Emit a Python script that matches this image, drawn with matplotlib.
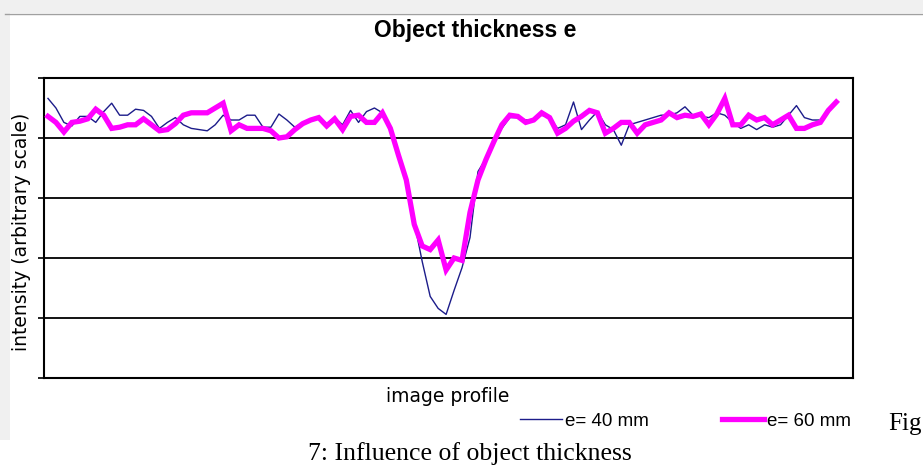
import matplotlib.pyplot as plt
import matplotlib.patches as patches
import numpy as np

# intensity profiles (arbitrary units, gridlines every 50)
e40 = [233, 225, 213, 210, 218, 218, 213, 222, 229, 219,
       219, 224, 223, 218, 208, 213, 217, 211, 208, 207,
       206, 211, 219, 215, 215, 219, 219, 209, 209, 220,
       215, 209, 213, 215, 217, 212, 217, 211, 223, 213,
       222, 225, 221, 210, 188, 167, 130, 97, 68, 58,
       53, 73, 92, 117, 172, 183, 198, 208, 217, 217,
       215, 215, 219, 217, 208, 211, 230, 207, 215, 222,
       211, 207, 194, 211, 213, 215, 217, 219, 219, 221,
       226, 219, 218, 217, 221, 219, 213, 208, 211, 207,
       211, 209, 211, 219, 227, 217, 215, 215, 223, 229]

e60 = [218, 213, 205, 213, 214, 216, 224, 219, 208, 209,
       211, 211, 216, 211, 206, 207, 212, 219, 221, 221,
       221, 225, 229, 206, 211, 208, 208, 208, 206, 200,
       201, 207, 212, 215, 217, 210, 216, 207, 218, 219,
       213, 213, 221, 208, 186, 165, 128, 110, 107, 115,
       90, 100, 98, 138, 165, 182, 197, 211, 219, 218,
       213, 215, 221, 217, 204, 208, 214, 218, 223, 221,
       204, 208, 213, 213, 204, 211, 213, 215, 221, 217,
       219, 218, 220, 211, 220, 233, 211, 211, 219, 215,
       217, 211, 215, 219, 208, 208, 211, 213, 223, 230]

legend_labels = ['e= 40 mm', 'e= 60 mm']
y_ticks = [0, 50, 100, 150, 200, 250]

W, H = 923, 470
fig = plt.figure(figsize=(W / 100, H / 100), dpi=100, facecolor='white')

# grey frame of the embedded chart image
fig.patches.append(patches.Rectangle((0, 1 - 13 / H), 1, 13 / H, transform=fig.transFigure,
                                     facecolor='#f0f0f0', edgecolor='none', zorder=0))
fig.patches.append(patches.Rectangle((0, 1 - 440 / H), 10 / W, 440 / H, transform=fig.transFigure,
                                     facecolor='#f0f0f0', edgecolor='none', zorder=0))
fig.add_artist(plt.Line2D([5 / W, 1], [1 - 14 / H, 1 - 14 / H], transform=fig.transFigure,
                          color='#a0a0a0', linewidth=1))

ax = fig.add_axes([44 / W, (H - 378) / H, (853 - 44) / W, (378 - 78) / H])
x = np.arange(len(e40))
l40, = ax.plot(x, e40, color='#1c1c8a', linewidth=1.0, zorder=3)
l60, = ax.plot(x, e60, color='#ff00ff', linewidth=3.8, zorder=4, solid_joinstyle='miter')

ax.set_xlim(-0.5, 101.1)
ax.set_ylim(0, 250)
ax.set_yticks(y_ticks)
ax.set_yticklabels([])
ax.set_xticks([])
ax.tick_params(axis='y', direction='out', length=4, width=1.2, color='black')
for y in y_ticks[1:-1]:
    ax.axhline(y, color='black', linewidth=1.3, zorder=1)
for s in ax.spines.values():
    s.set_color('black')
    s.set_linewidth(1.5)

fig.text(475 / W, 1 - 31 / H, 'Object thickness e', ha='center', va='center',
         fontsize=16.5, fontweight='bold', family='Liberation Sans')
fig.text(22 / W, 1 - 232 / H, 'intensity (arbitrary scale)', rotation=90, ha='center',
         va='center', fontsize=13.5, family='DejaVu Sans')
fig.text(448 / W, 1 - 397 / H, 'image profile', ha='center', va='center',
         fontsize=13.5, family='DejaVu Sans')

# legend drawn below the plot
leg = ax.legend([l40, l60], legend_labels, loc='upper left', bbox_to_anchor=(0.568, -0.06),
                ncol=2, frameon=False, handlelength=2.2, handletextpad=0.2, columnspacing=3.9,
                prop={'family': 'Liberation Sans', 'size': 13.5})

fig.text(888 / W, 1 - 424 / H, 'Fig', ha='left', va='center', fontsize=18, family='Liberation Serif')
fig.text(470 / W, 1 - 454 / H, '7: Influence of object thickness', ha='center', va='center',
         fontsize=18.5, family='Liberation Serif')

fig.savefig('out.png', dpi=100, facecolor='white')
